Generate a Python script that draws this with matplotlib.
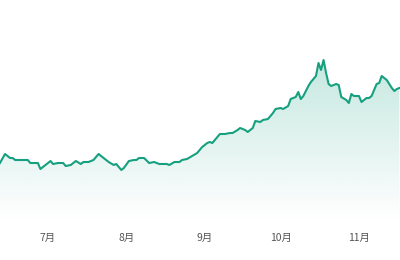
import numpy as np
import pandas as pd
import matplotlib
matplotlib.use("Agg")
import matplotlib.pyplot as plt
from matplotlib.patches import Polygon

plt.rcParams['font.family'] = ['Noto Sans CJK SC', 'DejaVu Sans']

dates = [
    "06-12", "06-14", "06-16", "06-17", "06-18", "06-23", "06-24", "06-27", "06-28", "06-30",
    "07-02", "07-03", "07-05", "07-07", "07-08", "07-10", "07-12", "07-14", "07-15", "07-17",
    "07-19", "07-21", "07-23", "07-25", "07-27", "07-28", "07-30", "07-31",
    "08-02", "08-04", "08-05", "08-06", "08-08", "08-10", "08-12", "08-14", "08-17", "08-18",
    "08-20", "08-22", "08-23", "08-25", "08-27", "08-29", "08-30", "08-31",
    "09-02", "09-03", "09-04", "09-07", "09-09", "09-11", "09-12", "09-14", "09-15", "09-17",
    "09-18", "09-20", "09-21", "09-23", "09-24", "09-26", "09-28", "09-29",
    "10-01", "10-02", "10-04", "10-05", "10-07", "10-08", "10-09", "10-10", "10-12", "10-13",
    "10-15", "10-16", "10-17", "10-18", "10-19", "10-20", "10-21", "10-23", "10-24", "10-25",
    "10-27", "10-28", "10-29", "10-30",
    "11-01", "11-02", "11-04", "11-05", "11-06", "11-08", "11-09", "11-10", "11-12", "11-14",
    "11-15", "11-16", "11-17",
]
values = [
    59, 68, 64, 64, 62, 62, 59, 59, 53, 57,
    61, 58, 59, 59, 56, 57, 61, 58, 60, 60,
    62, 68, 64, 60, 57, 58, 52, 54,
    61, 62, 62, 64, 64, 59, 60, 58, 58, 57,
    60, 60, 62, 63, 66, 69, 72, 75,
    79, 80, 79, 88, 88, 89, 89, 92, 94, 92,
    90, 94, 101, 100, 102, 103, 109, 113,
    114, 113, 116, 123, 125, 130, 123, 126, 136, 140,
    146, 159, 152, 162, 149, 138, 136, 138, 137, 125,
    122, 119, 128, 126,
    126, 120, 124, 124, 126, 138, 139, 146, 142, 134,
    131, 133, 134,
]
month_labels = ["7月", "8月", "9月", "10月", "11月"]
month_starts = ["07-01", "08-01", "09-01", "10-01", "11-01"]

x = pd.to_datetime(["2023-" + d for d in dates])
y = np.array(values, dtype=float)
ticks = pd.to_datetime(["2023-" + d for d in month_starts])

line_color = "#16a080"

fig = plt.figure(figsize=(4, 2.6), dpi=100)
ax = fig.add_axes([0, 38 / 260, 1, 222 / 260])

x0 = pd.Timestamp("2023-07-01")
xmin = x0 + pd.Timedelta(days=-48 / 2.528)
xmax = x0 + pd.Timedelta(days=352 / 2.528)
ax.set_xlim(xmin, xmax)
ax.set_ylim(0, 222)

# gradient fill under the line
xn = matplotlib.dates.date2num(x)
grad = np.linspace(0, 1, 256)
rgba = np.zeros((256, 1, 4))
rgba[:, 0, :3] = matplotlib.colors.to_rgb(line_color)
rgba[:, 0, 3] = grad * 0.34
im = ax.imshow(rgba, aspect="auto", origin="lower",
               extent=[matplotlib.dates.date2num(xmin), matplotlib.dates.date2num(xmax), 0, 222],
               zorder=1)
verts = np.column_stack([np.r_[xn[0], xn, xn[-1]], np.r_[0, y, 0]])
clip = Polygon(verts, closed=True, facecolor="none", edgecolor="none")
ax.add_patch(clip)
im.set_clip_path(clip)

ax.plot(x, y, color=line_color, lw=1.5, zorder=3, solid_joinstyle="round")

ax.set_xticks(ticks)
ax.set_xticklabels(month_labels)
ax.tick_params(axis="x", length=0, pad=8, labelsize=7.5, labelcolor="#555555")
ax.set_yticks([])
for s in ax.spines.values():
    s.set_visible(False)

fig.savefig("out.png", dpi=100)
